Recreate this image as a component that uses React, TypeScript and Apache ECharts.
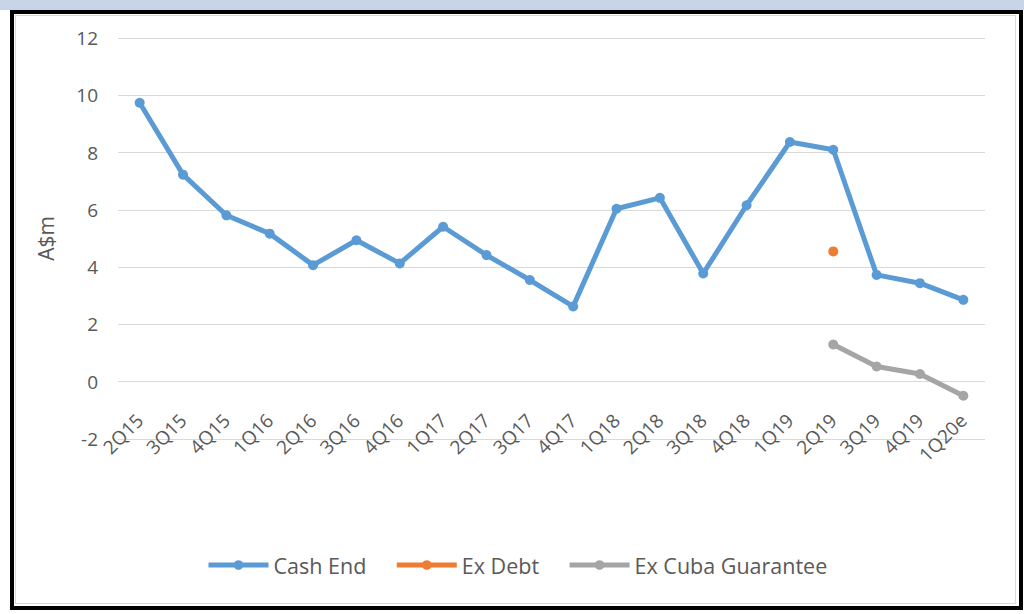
import React, { useEffect, useRef } from "react";
import * as echarts from "echarts";

const categories = ["2Q15","3Q15","4Q15","1Q16","2Q16","3Q16","4Q16","1Q17","2Q17","3Q17","4Q17","1Q18","2Q18","3Q18","4Q18","1Q19","2Q19","3Q19","4Q19","1Q20e"];
const cashEnd = [9.74, 7.23, 5.81, 5.17, 4.07, 4.94, 4.13, 5.41, 4.42, 3.55, 2.63, 6.04, 6.42, 3.78, 6.16, 8.37, 8.1, 3.73, 3.44, 2.86];
const exDebt = [null, null, null, null, null, null, null, null, null, null, null, null, null, null, null, null, 4.55, null, null, null];
const exCuba = [null, null, null, null, null, null, null, null, null, null, null, null, null, null, null, null, 1.3, 0.53, 0.27, -0.49];
const yTicks = { min: -2, max: 12, interval: 2 };

const FONT = "'Open Sans', 'Noto Sans', sans-serif";

export default function App() {
  const ref = useRef<HTMLDivElement>(null);
  useEffect(() => {
    if (!ref.current) return;
    const chart = echarts.init(ref.current, null, { renderer: "svg" });
    const mk = (name: string, data: any[], color: string) => ({
      name,
      type: "line",
      data,
      symbol: "circle",
      symbolSize: 10,
      connectNulls: false,
      lineStyle: { color, width: 5 },
      itemStyle: { color },
    });
    chart.setOption({
      animation: false,
      backgroundColor: "transparent",
      textStyle: { fontFamily: FONT },
      grid: { left: 118, right: 39, top: 38, bottom: 175, containLabel: false },
      legend: {
        left: 201,
        top: 549,
        itemWidth: 60,
        itemHeight: 12,
        itemGap: 28,
        lineStyle: { width: 5 },
        textStyle: { color: "#595959", fontSize: 21.5, fontFamily: FONT },
        data: ["Cash End", "Ex Debt", "Ex Cuba Guarantee"],
      },
      xAxis: {
        type: "category",
        data: categories,
        boundaryGap: true,
        axisLine: { show: false },
        axisTick: { show: false },
        axisLabel: { rotate: 45, margin: -22, color: "#595959", fontSize: 19, fontFamily: FONT, interval: 0 },
      },
      yAxis: {
        type: "value",
        min: yTicks.min,
        max: yTicks.max,
        interval: yTicks.interval,
        name: "A$m",
        nameLocation: "middle",
        nameGap: 62,
        nameRotate: 90,
        nameTextStyle: { color: "#595959", fontSize: 21, fontFamily: FONT },
        axisLine: { show: false },
        axisTick: { show: false },
        axisLabel: { color: "#595959", fontSize: 19, margin: 20, fontFamily: FONT },
        splitLine: { lineStyle: { color: "#d9d9d9", width: 1 } },
      },
      series: [
        mk("Cash End", cashEnd, "#5b9bd5"),
        mk("Ex Debt", exDebt, "#ed7d31"),
        mk("Ex Cuba Guarantee", exCuba, "#a5a5a5"),
      ],
    });
    return () => chart.dispose();
  }, []);
  return (
    <div style={{ position: "fixed", left: 0, top: 0, width: 1024, height: 614, background: "#fff", overflow: "hidden" }}>
      <div style={{ position: "absolute", left: 0, top: 0, width: 1024, height: 10, background: "#c7d4ea" }} />
      <div style={{ position: "absolute", left: 10, top: 10, width: 1013, height: 600, border: "4px solid #000", boxSizing: "border-box", background: "#fff" }} />
      <div style={{ position: "absolute", left: 15, top: 15, width: 1001, height: 589, border: "1px solid #d9d9d9", boxSizing: "border-box" }} />
      <div ref={ref} style={{ position: "absolute", left: 0, top: 0, width: 1024, height: 614 }} />
    </div>
  );
}
